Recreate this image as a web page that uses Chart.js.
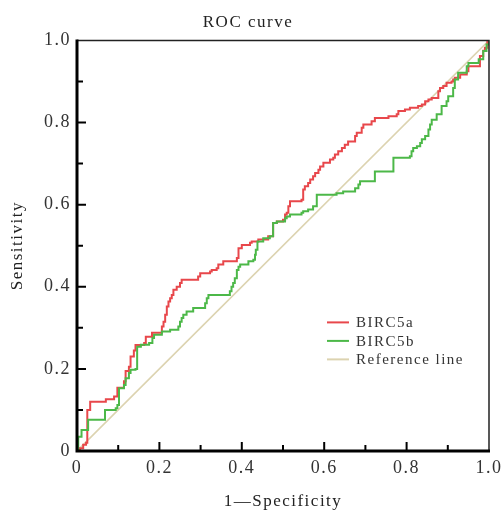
<!DOCTYPE html>
<html>
<head>
<meta charset="utf-8">
<script src="https://cdn.jsdelivr.net/npm/chart.js@4/dist/chart.umd.min.js"></script>
<style>
  html, body { margin: 0; padding: 0; background: #fff; }
  #wrap { width: 504px; height: 512px; }
</style>
</head>
<body>
<div id="wrap"><canvas id="roc" width="504" height="512"></canvas></div>
<script>
/* ROC curve, two markers + diagonal reference line.
   Step points: (1-specificity, sensitivity). */

const birc5aFpr = [0, 0.007, 0.015, 0.022, 0.025, 0.032, 0.07, 0.09, 0.098, 0.114, 0.118, 0.126, 0.13, 0.138, 0.142,
  0.163, 0.167, 0.182, 0.206, 0.21, 0.214, 0.218, 0.222, 0.226, 0.23, 0.234, 0.242, 0.25, 0.254, 0.294, 0.299,
  0.323, 0.327, 0.339, 0.343, 0.355, 0.388, 0.392, 0.40, 0.42, 0.424, 0.44, 0.464, 0.476, 0.485, 0.50, 0.505,
  0.509, 0.513, 0.517, 0.545, 0.549, 0.553, 0.561, 0.566, 0.573, 0.578, 0.586, 0.59, 0.598, 0.614, 0.622, 0.626,
  0.634, 0.643, 0.65, 0.658, 0.675, 0.679, 0.691, 0.695, 0.715, 0.723, 0.756, 0.776, 0.78, 0.796, 0.808, 0.828,
  0.837, 0.845, 0.853, 0.861, 0.877, 0.881, 0.889, 0.897, 0.909, 0.913, 0.917, 0.93, 0.946, 0.95, 0.978, 0.986,
  0.99, 0.996, 1];
const birc5aTpr = [0, 0.007, 0.015, 0.02, 0.10, 0.12, 0.126, 0.133, 0.154, 0.17, 0.195, 0.205, 0.23, 0.245, 0.258,
  0.263, 0.278, 0.288, 0.303, 0.315, 0.332, 0.352, 0.364, 0.372, 0.38, 0.393, 0.40, 0.409, 0.417, 0.425, 0.433,
  0.437, 0.441, 0.445, 0.454, 0.462, 0.47, 0.494, 0.502, 0.507, 0.51, 0.515, 0.523, 0.555, 0.559, 0.563, 0.576,
  0.58, 0.596, 0.608, 0.612, 0.637, 0.645, 0.653, 0.661, 0.669, 0.677, 0.685, 0.693, 0.702, 0.71, 0.714, 0.722,
  0.73, 0.738, 0.746, 0.754, 0.767, 0.775, 0.787, 0.795, 0.803, 0.811, 0.815, 0.82, 0.828, 0.832, 0.836, 0.84,
  0.844, 0.852, 0.856, 0.86, 0.876, 0.884, 0.889, 0.897, 0.90, 0.905, 0.909, 0.917, 0.925, 0.937, 0.962, 0.975,
  0.982, 1, 1];

const birc5bFpr = [0, 0.003, 0.011, 0.027, 0.068, 0.094, 0.098, 0.102, 0.114, 0.118, 0.126, 0.13, 0.142, 0.146,
  0.155, 0.175, 0.183, 0.187, 0.206, 0.226, 0.246, 0.25, 0.254, 0.258, 0.266, 0.282, 0.311, 0.315, 0.319, 0.371,
  0.375, 0.379, 0.383, 0.388, 0.392, 0.396, 0.416, 0.428, 0.432, 0.434, 0.438, 0.452, 0.468, 0.476, 0.485, 0.505,
  0.509, 0.517, 0.545, 0.549, 0.561, 0.573, 0.582, 0.63, 0.646, 0.675, 0.683, 0.687, 0.723, 0.768, 0.808, 0.812,
  0.816, 0.825, 0.833, 0.837, 0.845, 0.853, 0.857, 0.861, 0.873, 0.885, 0.897, 0.901, 0.913, 0.917, 0.925, 0.946,
  0.95, 0.975, 0.986, 0.994, 1];
const birc5bTpr = [0, 0.035, 0.051, 0.076, 0.10, 0.104, 0.112, 0.153, 0.161, 0.177, 0.19, 0.198, 0.20, 0.254,
  0.259, 0.263, 0.275, 0.283, 0.291, 0.295, 0.303, 0.315, 0.324, 0.332, 0.34, 0.348, 0.36, 0.372, 0.38, 0.389,
  0.40, 0.409, 0.421, 0.441, 0.449, 0.454, 0.462, 0.466, 0.478, 0.49, 0.51, 0.518, 0.523, 0.555, 0.559, 0.567,
  0.571, 0.576, 0.58, 0.584, 0.588, 0.596, 0.624, 0.628, 0.632, 0.64, 0.649, 0.657, 0.681, 0.714, 0.718, 0.73,
  0.738, 0.742, 0.75, 0.759, 0.767, 0.783, 0.795, 0.807, 0.82, 0.84, 0.852, 0.864, 0.884, 0.905, 0.921, 0.937,
  0.945, 0.954, 0.974, 0.99, 1];

const refX = [0, 1];
const refY = [0, 1];

const seriesNames = ["BIRC5a", "BIRC5b", "Reference line"];
const seriesColors = ["#e8474b", "#4cb848", "#dcd3b0"];
const tickValues = [0, 0.2, 0.4, 0.6, 0.8, 1.0];

const SERIF = "'Liberation Serif', 'Times New Roman', serif";
const SPACING = "1.5px";

function toPoints(xs, ys) {
  return xs.map((x, i) => ({ x, y: ys[i] }));
}

function tickText(v) {
  return v === 0 ? "0" : v.toFixed(1);
}

// letter spacing, so the serif text is as wide as the picture's
const spacing = {
  id: "spacing",
  beforeLayout(chart) { chart.ctx.letterSpacing = SPACING; },
  beforeDraw(chart) { chart.ctx.letterSpacing = SPACING; },
};

// box round the plot, with inward ticks
const frame = {
  id: "frame",
  afterDatasetsDraw(chart) {
    const { ctx, chartArea: a, scales } = chart;
    ctx.save();
    ctx.strokeStyle = "#222";
    ctx.lineWidth = 1.5;
    ctx.beginPath();
    ctx.moveTo(a.left, a.top); ctx.lineTo(a.right, a.top); ctx.lineTo(a.right, a.bottom);
    ctx.stroke();

    ctx.strokeStyle = "#000";
    ctx.lineWidth = 3;
    ctx.beginPath();
    ctx.moveTo(a.left, a.top - 1); ctx.lineTo(a.left, a.bottom); ctx.lineTo(a.right + 1, a.bottom);
    ctx.stroke();

    ctx.lineWidth = 2;
    for (let i = 1; i < 10; i++) {
      const v = i / 10;
      const len = i % 2 === 0 ? 9 : 6;
      const px = scales.x.getPixelForValue(v);
      const py = scales.y.getPixelForValue(v);
      ctx.beginPath();
      ctx.moveTo(px, a.bottom); ctx.lineTo(px, a.bottom - len);
      ctx.moveTo(a.left, py); ctx.lineTo(a.left + len, py);
      ctx.stroke();
    }
    ctx.restore();
  },
};

// legend sitting inside the plot, lower right
const insideLegend = {
  id: "insideLegend",
  afterDraw(chart) {
    const { ctx, chartArea: a } = chart;
    const x0 = a.left + 250;
    const y0 = a.top + 282;
    ctx.save();
    ctx.letterSpacing = SPACING;
    ctx.font = "15px " + SERIF;
    ctx.textBaseline = "middle";
    chart.data.datasets.forEach((ds, i) => {
      const y = y0 + i * 18.5;
      ctx.strokeStyle = ds.borderColor;
      ctx.lineWidth = 2;
      ctx.beginPath();
      ctx.moveTo(x0, y); ctx.lineTo(x0 + 22, y);
      ctx.stroke();
      ctx.fillStyle = "#333";
      ctx.fillText(ds.label, x0 + 29, y + 1);
    });
    ctx.restore();
  },
};

const ctx = document.getElementById("roc").getContext("2d");

new Chart(ctx, {
  type: "scatter",
  data: {
    datasets: [
      {
        label: seriesNames[0],
        data: toPoints(birc5aFpr, birc5aTpr),
        borderColor: seriesColors[0],
        borderWidth: 2,
        showLine: true,
        stepped: true,
        pointRadius: 0,
        order: 2,
      },
      {
        label: seriesNames[1],
        data: toPoints(birc5bFpr, birc5bTpr),
        borderColor: seriesColors[1],
        borderWidth: 2,
        showLine: true,
        stepped: true,
        pointRadius: 0,
        order: 1,
      },
      {
        label: seriesNames[2],
        data: toPoints(refX, refY),
        borderColor: seriesColors[2],
        borderWidth: 1.6,
        showLine: true,
        pointRadius: 0,
        order: 3,
      },
    ],
  },
  options: {
    responsive: false,
    animation: false,
    events: [],
    layout: { padding: { left: 7, right: 15, top: 12, bottom: 0 } },
    plugins: {
      legend: { display: false },
      tooltip: { enabled: false },
      title: {
        display: true,
        text: "ROC curve",
        color: "#222",
        font: { family: SERIF, size: 17, weight: "normal" },
        padding: { top: 0, bottom: 8 },
      },
    },
    scales: {
      x: {
        type: "linear",
        min: 0,
        max: 1,
        afterBuildTicks: (s) => { s.ticks = tickValues.map((v) => ({ value: v })); },
        afterFit: (s) => { s.height = 61; s.paddingLeft = 0; s.paddingRight = 0; },
        ticks: {
          callback: tickText,
          color: "#333",
          padding: 6,
          maxRotation: 0,
          font: { family: SERIF, size: 18 },
        },
        grid: { display: false, drawTicks: false },
        border: { display: false },
        title: {
          display: true,
          text: "1—Specificity",
          color: "#222",
          font: { family: SERIF, size: 17 },
          padding: { top: 6, bottom: 0 },
        },
      },
      y: {
        type: "linear",
        min: 0,
        max: 1,
        afterBuildTicks: (s) => { s.ticks = tickValues.map((v) => ({ value: v })); },
        afterFit: (s) => { s.width = 70; s.paddingTop = 0; s.paddingBottom = 0; },
        ticks: {
          callback: tickText,
          color: "#333",
          padding: 6,
          font: { family: SERIF, size: 18 },
        },
        grid: { display: false, drawTicks: false },
        border: { display: false },
        title: {
          display: true,
          text: "Sensitivity",
          color: "#222",
          font: { family: SERIF, size: 17 },
          padding: { top: 0, bottom: 4 },
        },
      },
    },
  },
  plugins: [spacing, frame, insideLegend],
});
</script>
</body>
</html>
